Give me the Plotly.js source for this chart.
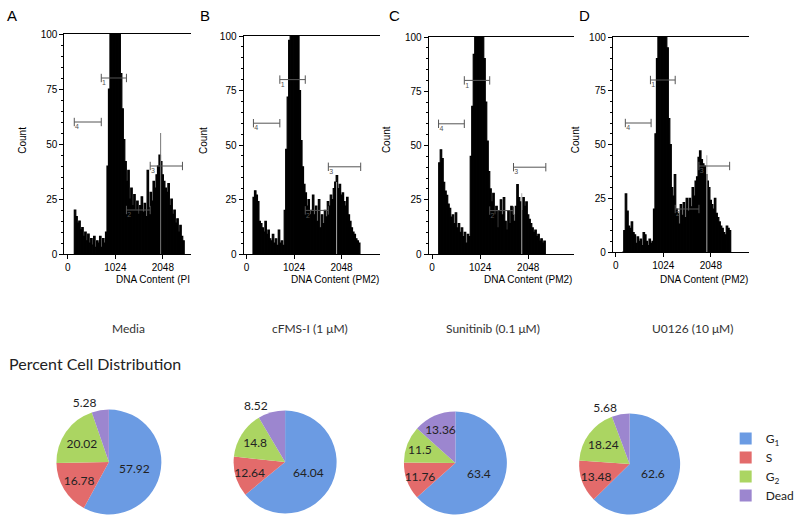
<!DOCTYPE html>
<html>
<head>
<meta charset="utf-8">
<script src="https://cdn.plot.ly/plotly-3.0.1.min.js"></script>
<style>html,body{margin:0;padding:0;background:#fff;}#chart{width:800px;height:528px;}</style>
</head>
<body>
<div id="chart"></div>
<script>
// ---------------- DATA ----------------
const binStart = 156;      // first bin centre (DNA content units)
const binWidth = 32;       // bin width (DNA content units)
const xTickVals = [0, 1024, 2048];
const yTickVals = [0, 25, 50, 75, 100];

const countsA = [20,17,14,15,11,12,8,10,6,9, 5,7,4,8,3,6,5,8,3,7, 5,10,40,75,105,140,160,160,140,120,
  100,82,66,52,42,33,38,25,30,22, 27,20,24,18,22,26,19,23,17,38, 21,28,24,33,30,36,40,45,42,36,
  33,30,28,32,22,25,18,20,14,16, 10,13,8,6];
const countsB = [26,29,27,24,15,14,12,10,15,9, 11,7,6,9,5,7,4,11,5,6, 4,20,48,72,98,130,160,170,160,130,
  105,75,52,40,32,28,22,25,18,20, 27,18,22,15,25,12,18,14,20,17, 24,22,27,25,30,33,36,30,32,27,
  28,24,22,26,18,15,12,10,9,7, 6,5];
const countsC = [42,48,44,33,29,27,23,21,17,18, 14,19,12,14,10,12,8,10,5,9, 8,45,68,92,120,150,170,165,145,115,
  90,70,52,38,30,24,28,18,22,12, 20,25,18,26,15,11,20,14,22,18, 15,22,32,26,24,20,26,22,24,18,
  16,14,12,10,11,8,9,6,7,5, 6];
const countsD = [0,10,27,19,12,11,14,9,8,4, 7,5,6,3,9,8,5,3,6,4, 5,20,55,90,130,160,170,160,140,120,
  95,62,50,30,26,36,20,18,13,22, 17,23,16,25,19,25,21,30,26,33, 35,44,47,43,41,40,36,33,30,24,
  22,20,25,18,16,14,12,11,9,8, 12,11,10];

// gate markers: names, level (count), start / end (DNA content) per panel
const gateNames  = ['1', '2', '3', '4'];
const gateLevel  = [80, 20, 40, 60];
const gateStartA = [721, 1263, 1775, 139];
const gateEndA   = [1263, 1775, 2470, 721];
const gateStartB = [718, 1266, 1763, 149];
const gateEndB   = [1266, 1763, 2460, 718];
const gateStartC = [686, 1227, 1734, 137];
const gateEndC   = [1227, 1734, 2423, 686];
const gateStartD = [747, 1280, 1792, 206];
const gateEndD   = [1280, 1792, 2453, 761];

// cursor line in each histogram (DNA content, top count)
const cursorX   = [2000, 1941, 1910, 1962];
const cursorTop = [55, 33, 28, 45];

const panelLetters = ['A', 'B', 'C', 'D'];
const xTitles = ['DNA Content (PI', 'DNA Content (PM2)', 'DNA Content (PM2)', 'DNA Content (PM2)'];
const treatments = ['Media', 'cFMS-I (1 \u03bcM)', 'Sunitinib (0.1 \u03bcM)', 'U0126 (10 \u03bcM)'];

const phases = ['G<sub>1</sub>', 'S', 'G<sub>2</sub>', 'Dead'];
const pctMedia = [57.92, 16.78, 20.02, 5.28];
const pctCfms  = [64.04, 12.64, 14.8, 8.52];
const pctSuni  = [63.4, 11.76, 11.5, 13.36];
const pctU0126 = [62.6, 13.48, 18.24, 5.68];
const pieTitle = 'Percent Cell Distribution';

// ---------------- LAYOUT HELPERS ----------------
const W = 800, H = 528;
const px = x => x / W;
const py = y => 1 - y / H;

const panels = [
  {counts: countsA, gs: gateStartA, ge: gateEndA, L: 65,  R: 193, T: 34, B: 254, zero: 68.5,  upp: 21.33, countX: 22,  letterX: 12,  titleR: 194},
  {counts: countsB, gs: gateStartB, ge: gateEndB, L: 246, R: 384, T: 36, B: 254, zero: 249,   upp: 21.33, countX: 205, letterX: 207, titleR: 385},
  {counts: countsC, gs: gateStartC, ge: gateEndC, L: 433, R: 580, T: 37, B: 254, zero: 436.5, upp: 21.1,  countX: 390, letterX: 398, titleR: 580},
  {counts: countsD, gs: gateStartD, ge: gateEndD, L: 619, R: 757, T: 37, B: 252, zero: 622,   upp: 21.33, countX: 581, letterX: 590, titleR: 758}
];

const histFont = 'Liberation Sans, Arial, sans-serif';
const officeFont = 'Lato, Open Sans, sans-serif';

const traces = [];
const layout = {
  width: W, height: H,
  margin: {l: 0, r: 0, t: 0, b: 0},
  paper_bgcolor: '#fff', plot_bgcolor: '#fff',
  showlegend: true,
  bargap: 0,
  uniformtext: {minsize: 12, mode: 'show'},
  font: {family: histFont, color: '#000'},
  legend: {x: px(733), y: py(424), xanchor: 'left', yanchor: 'top',
           font: {family: officeFont, size: 12, color: '#222'}, bgcolor: 'rgba(0,0,0,0)',
           tracegroupgap: 0, itemclick: false},
  annotations: []
};

panels.forEach((p, i) => {
  const n = i === 0 ? '' : String(i + 1);
  const xa = 'x' + n, ya = 'y' + n;
  layout['xaxis' + n] = {
    domain: [px(p.L), px(p.R)], anchor: ya,
    range: [(p.L - p.zero) * p.upp, (p.R - p.zero) * p.upp],
    showline: true, linecolor: '#000', linewidth: 1.2, mirror: true,
    ticks: 'outside', ticklen: 4, tickwidth: 1, tickcolor: '#000',
    tickmode: 'array', tickvals: xTickVals,
    tickfont: {size: 10, family: histFont, color: '#000'},
    showgrid: false, zeroline: false, fixedrange: true
  };
  layout['yaxis' + n] = {
    domain: [py(p.B), py(p.T)], anchor: xa,
    range: [0, 100],
    showline: true, linecolor: '#000', linewidth: 1,
    ticks: 'outside', ticklen: 4, tickwidth: 1, tickcolor: '#000',
    tickmode: 'array', tickvals: yTickVals,
    minor: {ticks: 'outside', ticklen: 2, dtick: 5, tick0: 0, tickcolor: '#000', showgrid: false},
    tickfont: {size: 10, family: histFont, color: '#000'},
    showgrid: false, zeroline: false, fixedrange: true
  };

  traces.push({
    type: 'bar', xaxis: xa, yaxis: ya, x0: binStart, dx: binWidth, y: p.counts,
    width: binWidth, marker: {color: '#000', line: {color: '#000', width: 1.2}},
    showlegend: false, hoverinfo: 'skip'
  });
  // cursor line
  traces.push({
    type: 'scatter', mode: 'lines', xaxis: xa, yaxis: ya,
    x: [cursorX[i], cursorX[i]], y: [0, cursorTop[i]],
    line: {color: i === 0 ? '#777' : '#aaa', width: 1}, showlegend: false, hoverinfo: 'skip'
  });
  // gates
  const gx = [], gy = [];
  gateNames.forEach((g, k) => { gx.push(p.gs[k], p.ge[k], null); gy.push(gateLevel[k], gateLevel[k], null); });
  traces.push({
    type: 'scatter', mode: 'lines+markers', xaxis: xa, yaxis: ya, x: gx, y: gy,
    line: {color: '#555', width: 1},
    marker: {symbol: 'line-ns', size: 6, color: '#555', line: {color: '#555', width: 1}},
    showlegend: false, hoverinfo: 'skip', cliponaxis: false
  });
  traces.push({
    type: 'scatter', mode: 'text', xaxis: xa, yaxis: ya,
    x: p.gs.map(v => v + 60), y: gateLevel.map(v => v - 2.5), text: gateNames,
    textposition: 'middle center', textfont: {size: 7, color: '#555', family: histFont},
    showlegend: false, hoverinfo: 'skip'
  });

  layout.annotations.push(
    {xref: 'paper', yref: 'paper', x: px(p.letterX), y: py(15), text: panelLetters[i], showarrow: false,
     xanchor: 'center', yanchor: 'middle', font: {size: 15, family: histFont, color: '#000'}},
    {xref: 'paper', yref: 'paper', x: px(p.countX), y: py(140), text: 'Count', textangle: -90, showarrow: false,
     xanchor: 'center', yanchor: 'middle', font: {size: 10, family: histFont, color: '#000'}},
    {xref: 'paper', yref: 'paper', x: px(p.titleR), y: py(279), text: xTitles[i], showarrow: false,
     xanchor: 'right', yanchor: 'middle', font: {size: 10, family: histFont, color: '#000'}}
  );
});

const treatX = [130, 313, 498, 699];
treatments.forEach((t, i) => layout.annotations.push({
  xref: 'paper', yref: 'paper', x: px(treatX[i]), y: py(328), text: t, showarrow: false,
  xanchor: 'center', yanchor: 'middle', font: {size: 12, family: officeFont, color: '#333'}
}));
layout.annotations.push({
  xref: 'paper', yref: 'paper', x: px(7), y: py(363), text: pieTitle, showarrow: false,
  xanchor: 'left', yanchor: 'middle', font: {size: 16, family: officeFont, color: '#222'}
});

// pies
const pieColors = ['#6b9be3', '#e36b6b', '#abd562', '#9c86cf'];
const pieBoxes = [
  {cx: 110, cy: 462, r: 53, pos: ['inside', 'inside', 'inside', 'outside']},
  {cx: 288, cy: 462, r: 52, pos: ['inside', 'inside', 'inside', 'outside']},
  {cx: 460, cy: 463, r: 52, pos: ['inside', 'inside', 'inside', 'inside']},
  {cx: 636, cy: 464, r: 51, pos: ['inside', 'inside', 'inside', 'outside']}
];
[pctMedia, pctCfms, pctSuni, pctU0126].forEach((vals, i) => {
  const b = pieBoxes[i];
  traces.push({
    type: 'pie', labels: phases, values: vals, sort: false, direction: 'clockwise', rotation: 0,
    domain: {x: [px(b.cx - b.r), px(b.cx + b.r)], y: [py(b.cy + b.r), py(b.cy - b.r)]},
    marker: {colors: pieColors, line: {width: 0}},
    textinfo: 'value', textposition: b.pos, insidetextorientation: 'horizontal',
    textfont: {size: 12, family: officeFont, color: '#222'},
    outsidetextfont: {size: 12, family: officeFont, color: '#222'},
    showlegend: i === 0, hoverinfo: 'skip'
  });
});

Plotly.newPlot('chart', traces, layout, {staticPlot: true, displayModeBar: false});
</script>
</body>
</html>
